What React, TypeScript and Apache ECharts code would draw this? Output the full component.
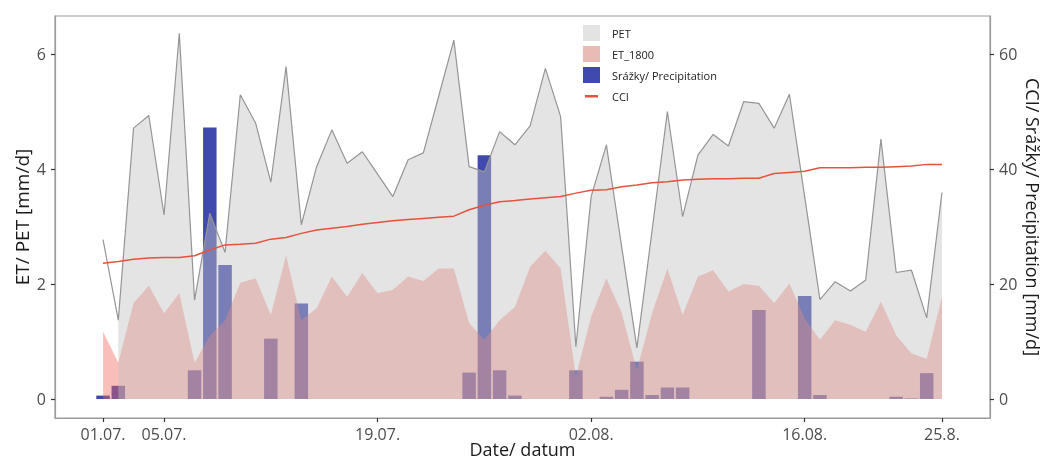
import { useEffect, useRef } from "react";
import * as echarts from "echarts";

// day index 0 = 01.07.
const tickDays = [0, 4, 18, 32, 46, 55];
const tickLabels = ["01.07.", "05.07.", "19.07.", "02.08.", "16.08.", "25.8."];
const leftTicks = [0, 2, 4, 6];
const rightTicks = [0, 20, 40, 60];

const pet = [
  2.77, 1.37, 4.71, 4.93, 3.2, 6.36, 1.72, 3.23, 2.55, 5.29,
  4.8, 3.77, 5.78, 3.03, 4.04, 4.68, 4.1, 4.3, 3.91, 3.52,
  4.16, 4.28, 5.26, 6.24, 4.04, 3.95, 4.65, 4.42, 4.75, 5.75,
  4.91, 0.91, 3.52, 4.42, 2.65, 0.89, 2.94, 5.0, 3.17, 4.24,
  4.6, 4.4, 5.17, 5.14, 4.71, 5.3, 3.52, 1.73, 2.04, 1.88,
  2.07, 4.52, 2.2, 2.24, 1.41, 3.59,
];

const et = [
  1.17, 0.63, 1.67, 1.97, 1.49, 1.84, 0.63, 1.1, 1.37, 2.02,
  2.1, 1.46, 2.5, 1.37, 1.58, 2.13, 1.78, 2.19, 1.84, 1.9,
  2.13, 2.05, 2.27, 2.27, 1.32, 1.03, 1.37, 1.6, 2.3, 2.58,
  2.27, 0.39, 1.43, 2.1, 1.5, 0.5, 1.5, 2.27, 1.46, 2.13,
  2.24, 1.87, 2.0, 1.97, 1.67, 2.01, 1.4, 1.03, 1.37, 1.29,
  1.17, 1.69, 1.11, 0.79, 0.7, 1.78,
];

const precip = [
  0.6, 2.3, 0, 0, 0, 0, 5.0, 47.2, 23.3, 0,
  0, 10.5, 0, 16.6, 0, 0, 0, 0, 0, 0,
  0, 0, 0, 0, 4.6, 42.4, 5.0, 0.6, 0, 0,
  0, 5.0, 0, 0.4, 1.6, 6.5, 0.7, 2.0, 2.0, 0,
  0, 0, 0, 15.5, 0, 0, 17.9, 0.7, 0, 0,
  0, 0, 0.4, 0.1, 4.5, 0,
];

const cci = [
  23.6, 23.9, 24.3, 24.5, 24.6, 24.6, 24.9, 25.9, 26.8, 26.9,
  27.1, 27.8, 28.1, 28.8, 29.4, 29.7, 30.0, 30.4, 30.7, 31.0,
  31.2, 31.4, 31.6, 31.8, 32.9, 33.7, 34.3, 34.5, 34.8, 35.0,
  35.2, 35.8, 36.3, 36.4, 36.9, 37.2, 37.6, 37.8, 38.1, 38.2,
  38.3, 38.3, 38.4, 38.4, 39.2, 39.4, 39.6, 40.2, 40.2, 40.2,
  40.3, 40.3, 40.4, 40.5, 40.8, 40.8,
];

const pts = (arr: number[], offset = 0) => arr.map((v, i) => [i + offset, v]);

export default function App() {
  const ref = useRef<HTMLDivElement>(null);
  useEffect(() => {
    const chart = echarts.init(ref.current!, null, { renderer: "svg" });
    const font = "Open Sans";
    const labelColor = "#4d4d4d";
    const titleColor = "#1a1a1a";
    const tickStyle = { color: "#333", width: 1.2 };
    const frameLine = { show: true, onZero: false, lineStyle: { color: "#9c9c9c", width: 1.2 } };
    chart.setOption({
      animation: false,
      textStyle: { fontFamily: font },
      grid: {
        left: 55,
        right: 54,
        top: 16,
        bottom: 43,
        show: true,
        borderColor: "#9c9c9c",
        borderWidth: 1.2,
        backgroundColor: "transparent",
        outerBoundsMode: "none",
      },
      legend: {
        orient: "vertical",
        left: 578,
        top: 20,
        itemWidth: 17,
        itemHeight: 16,
        itemGap: 5,
        selectedMode: false,
        textStyle: { fontSize: 11, color: "#222", fontFamily: font, padding: [0, 0, 0, 7] },
        data: [
          { name: "PET", icon: "rect" },
          { name: "ET_1800", icon: "rect" },
          { name: "Srážky/ Precipitation", icon: "rect" },
          { name: "CCI", icon: "path://M0,0L0.01,0M2,7L15,7L15,9.5L2,9.5ZM17,16L16.99,16" },
        ],
      },
      xAxis: {
        type: "value",
        min: -3.15,
        max: 58.15,
        axisLine: frameLine,
        splitLine: { show: false },
        axisTick: { show: true, customValues: tickDays, length: 4, lineStyle: tickStyle },
        axisLabel: {
          customValues: tickDays,
          formatter: (v: number) => {
            const k = tickDays.indexOf(Math.round(v));
            return k >= 0 ? tickLabels[k] : "";
          },
          fontSize: 16,
          color: labelColor,
          margin: 8,
          fontFamily: font,
        },
        name: "Date/ datum",
        nameLocation: "middle",
        nameMoveOverlap: false,
        nameGap: 22,
        nameTextStyle: { fontSize: 18, lineHeight: 18, color: titleColor, fontFamily: font },
      },
      yAxis: [
        {
          type: "value",
          min: -0.33,
          max: 6.66,
          axisLine: frameLine,
          splitLine: { show: false },
          axisTick: { show: true, customValues: leftTicks, length: 4, lineStyle: tickStyle },
          axisLabel: { customValues: leftTicks, fontSize: 16, color: labelColor, margin: 9, fontFamily: font },
          name: "ET/ PET [mm/d]",
          nameLocation: "middle",
          nameMoveOverlap: false,
          nameRotate: 90,
          nameGap: 24,
          nameTextStyle: { fontSize: 19, color: titleColor, fontFamily: font },
        },
        {
          type: "value",
          position: "right",
          min: -3.3,
          max: 66.6,
          axisLine: frameLine,
          splitLine: { show: false },
          axisTick: { show: true, customValues: rightTicks, length: 4, lineStyle: tickStyle },
          axisLabel: { customValues: rightTicks, fontSize: 16, color: labelColor, margin: 9, fontFamily: font },
          name: "CCI/ Srážky/ Precipitation [mm/d]",
          nameLocation: "middle",
          nameMoveOverlap: false,
          nameRotate: -90,
          nameGap: 34,
          nameTextStyle: { fontSize: 18, color: titleColor, fontFamily: font },
        },
      ],
      series: [
        {
          name: "Srážky/ Precipitation",
          type: "bar",
          yAxisIndex: 1,
          data: pts(precip),
          barWidth: 13.5,
          itemStyle: { color: "#4049ad" },
        },
        {
          name: "ET_1800",
          type: "line",
          data: pts(et),
          symbol: "none",
          lineStyle: { width: 0 },
          itemStyle: { color: "#e8bcb5" },
          areaStyle: { color: "rgba(240,100,90,0.42)", opacity: 1 },
        },
        {
          name: "PET",
          type: "line",
          data: pts(pet.slice(1), 1),
          symbol: "none",
          lineStyle: { width: 0 },
          itemStyle: { color: "#e3e3e3" },
          areaStyle: { color: "rgba(193,193,193,0.44)", opacity: 1 },
        },
        {
          name: "PET line",
          type: "line",
          data: pts(pet),
          symbol: "none",
          lineStyle: { color: "#959595", width: 1.2 },
          itemStyle: { color: "#959595" },
        },
        {
          name: "CCI",
          type: "line",
          yAxisIndex: 1,
          data: pts(cci),
          symbol: "none",
          lineStyle: { color: "#e5533d", width: 1.5 },
          itemStyle: { color: "#e5533d" },
        },
      ],
    });
    return () => chart.dispose();
  }, []);
  return (
    <div
      ref={ref}
      style={{ position: "fixed", left: 0, top: 0, width: 1044, height: 461 }}
    />
  );
}
